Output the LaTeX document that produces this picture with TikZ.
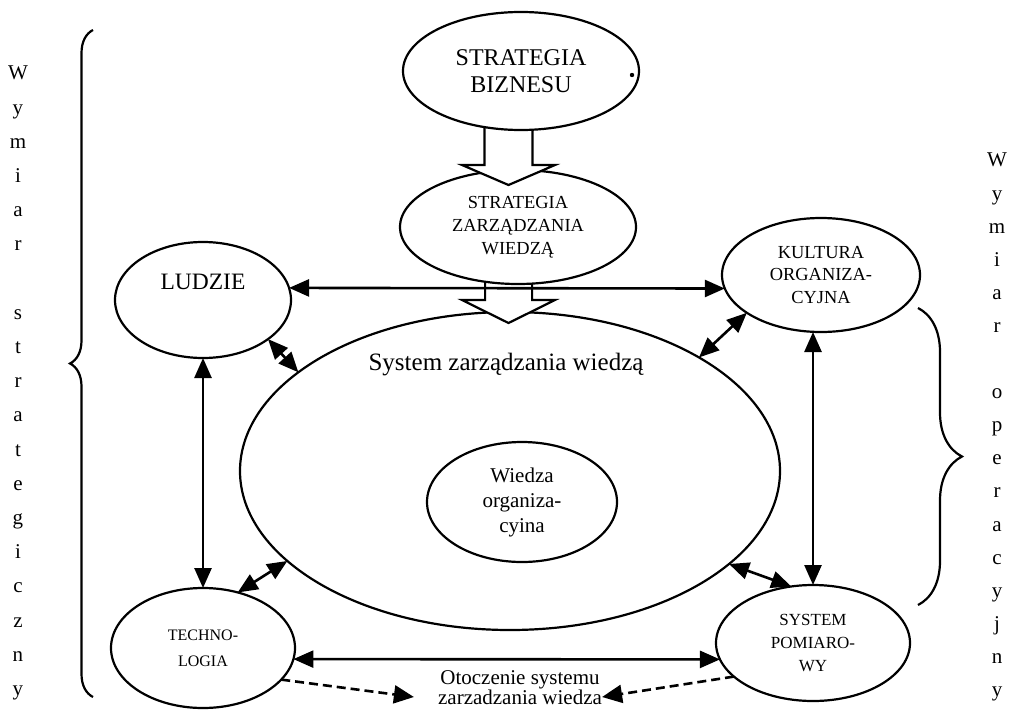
\documentclass[tikz,border=0pt]{standalone}
\usepackage{fontspec}
\setmainfont{Liberation Serif}
\usetikzlibrary{shapes.geometric,arrows.meta,decorations.pathreplacing,calc}
\begin{document}
\begin{tikzpicture}[x=1pt,y=1pt]
	\def\lw{2.2pt}
	\def\tip{Triangle[length=20pt,width=17pt]}
	\tikzset{ov/.style={draw,ellipse,line width=\lw,inner sep=0pt,outer sep=0pt,align=center},
		dw/.style={{\tip}-{\tip},line width=2.6pt},
		ds/.style={-{Triangle[length=20pt,width=18pt]},line width=2.6pt,dash pattern=on 9pt off 5pt},
		hol/.style={line width=\lw},
		br/.style={decorate,line width=2.2pt},
		col/.style={align=center,inner sep=0pt,anchor=north}}
	\useasboundingbox(0,0)rectangle(1017,-712);
	\path(521,-71)node[ov,minimum width=236,minimum height=118,font=\fontsize{24}{27}\selectfont](SB){STRATEGIA\\BIZNESU}
		(518,-227)node[ov,minimum width=236,minimum height=114,font=\fontsize{18.4}{23}\selectfont](SZW){STRATEGIA\\ZARZĄDZANIA\\WIEDZĄ}
		(510,-471)node[ov,minimum width=540,minimum height=318](SZ){}
		(522,-502)node[ov,minimum width=190,minimum height=120,font=\fontsize{21}{25}\selectfont](WO){Wiedza\\organiza-\\cyina};
	\path(SZ.north)++(-4,-53)node[font=\fontsize{25}{30}\selectfont](SZT){System zarządzania wiedzą};
	\path(203,-300)node[ov,minimum width=176,minimum height=116](LUD){}++(0,18)node[font=\fontsize{23.5}{28}\selectfont](LUDT){LUDZIE};
	\path(821,-275)node[ov,minimum width=198,minimum height=114,font=\fontsize{18.4}{22.5}\selectfont](KUL){KULTURA\\ORGANIZA-\\CYJNA}
		(203,-648)node[ov,minimum width=184,minimum height=120,font=\fontsize{16}{26}\selectfont](TECH){TECHNO-\\LOGIA}
		(813,-643)node[ov,minimum width=194,minimum height=116,font=\fontsize{17}{23}\selectfont](SPM){SYSTEM\\POMIARO-\\WY}
		(520,-688)node[inner sep=0pt,align=center,font=\fontsize{21}{20}\selectfont](OT){Otoczenie systemu\\zarzadzania wiedza};
	%%Kolumny boczne
	\path(18,-66)node[col,font=\fontsize{21}{34.2}\selectfont](LW){W\\y\\m\\i\\a\\r\\[34.2pt]s\\t\\r\\a\\t\\e\\g\\i\\c\\z\\n\\y}
		(997,-153)node[col,font=\fontsize{21}{33.1}\selectfont](RW){W\\y\\m\\i\\a\\r\\[33.1pt]o\\p\\e\\r\\a\\c\\y\\j\\n\\y};
	\draw[br,decoration={brace,amplitude=23pt}](93,-697)--(93,-30);
	\draw[br,decoration={brace,amplitude=44pt}](918,-308)--(918,-605);
	%%Strzalki puste
	\foreach \u/\a/\b/\h/\t in {SB/237/281/-165/-185,SZW/239/284/-300/-323}{
		\fill[white](462,\h)--(508.5,\t)--(555,\h)--cycle;
		\draw[hol](\u.\a)--(\u.\a|-462,\h)--(462,\h)--(508.5,\t)--(555,\h)--(\u.\b|-462,\h)--(\u.\b);}
	\foreach \x/\y in {
		LUD.8/KUL.188,
		LUD.south/TECH.north,
		KUL.south-|SPM.north/SPM.north,
		LUD.-31/SZ.155,KUL.207/SZ.31,
		TECH.58/SZ.202,SPM.111/SZ.-23,
		TECH.-7/SPM.190}
	\draw[dw](\x)--(\y);
	\draw[ds](TECH.-22)--($(OT.west)+(-24,-9)$);
	\draw[ds](SPM.203)--($(OT.east)+(0,-9)$);
	\fill(SB.east)++(-7,-4)circle(2.2);
\end{tikzpicture}
\end{document}
